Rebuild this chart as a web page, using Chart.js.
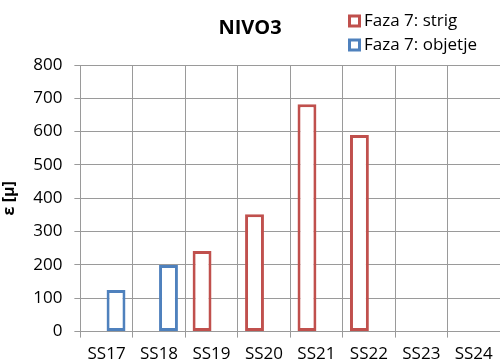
<!DOCTYPE html>
<html>
<head>
<meta charset="utf-8">
<script src="https://cdn.jsdelivr.net/npm/chart.js@4.4.1/dist/chart.umd.min.js"></script>
<style>
html,body{margin:0;padding:0;background:#fff;overflow:hidden;}
#wrap{width:500px;height:361px;position:relative;}
</style>
</head>
<body>
<div id="wrap"><canvas id="c" width="500" height="361"></canvas></div>
<script>
const categories = ['SS17','SS18','SS19','SS20','SS21','SS22','SS23','SS24'];
const strigValues = [null, null, 242, 352, 682, 590, null, null];
const objetjeValues = [125, 200, null, null, null, null, null, null];
const seriesLabels = ['Faza 7: strig', 'Faza 7: objetje'];
const seriesColors = ['#C0504D', '#4F81BD'];
const yTicks = [0,100,200,300,400,500,600,700,800];

const FONT = '"Open Sans", "Liberation Sans", sans-serif';
const GRID = '#9a9a9a';

const customLegend = {
  id: 'customLegend',
  afterDraw(chart) {
    const ctx = chart.ctx;
    ctx.save();
    chart.data.datasets.forEach((ds, i) => {
      const x = 348, cy = 21 + i * 24, s = 13;
      ctx.fillStyle = '#ffffff';
      ctx.fillRect(x, cy - s/2, s, s);
      ctx.strokeStyle = ds.borderColor;
      ctx.lineWidth = 3;
      ctx.strokeRect(x + 1.5, cy - s/2 + 1.5, s - 3, s - 3);
      ctx.fillStyle = '#000';
      ctx.font = '17px ' + FONT;
      ctx.textBaseline = 'middle';
      ctx.textAlign = 'left';
      ctx.fillText(ds.label, x + 16, cy);
    });
    ctx.restore();
  }
};

new Chart(document.getElementById('c'), {
  type: 'bar',
  data: {
    labels: categories,
    datasets: [
      { label: seriesLabels[0], data: strigValues, backgroundColor: '#ffffff', borderColor: seriesColors[0], borderWidth: 3, borderSkipped: false },
      { label: seriesLabels[1], data: objetjeValues, backgroundColor: '#ffffff', borderColor: seriesColors[1], borderWidth: 3, borderSkipped: false }
    ]
  },
  options: {
    responsive: false,
    animation: false,
    layout: { padding: { left: 0, right: 0, top: 0, bottom: -9 } },
    datasets: { bar: { categoryPercentage: 0.72, barPercentage: 1.0 } },
    plugins: {
      legend: { display: false },
      tooltip: { enabled: false },
      title: {
        display: true,
        text: 'NIVO3',
        color: '#000',
        font: { family: FONT, size: 20, weight: 'bold' },
        padding: { top: 16, bottom: 25 }
      }
    },
    scales: {
      x: {
        grid: { color: GRID, lineWidth: 1, tickLength: 6, offset: true, drawTicks: true },
        border: { color: GRID },
        ticks: { color: '#000', font: { family: FONT, size: 17 }, padding: 6, maxRotation: 0, autoSkip: false }
      },
      y: {
        min: 0, max: 800,
        afterBuildTicks(scale) { scale.ticks = yTicks.map(v => ({ value: v })); },
        grid: { color: GRID, lineWidth: 1, tickLength: 6 },
        border: { color: GRID },
        ticks: { color: '#000', font: { family: FONT, size: 17 }, padding: 12 },
        title: { display: true, text: 'ε [μ]', color: '#000', font: { family: FONT, size: 16, weight: 'bold' }, padding: { top: 0, bottom: 2 } }
      }
    }
  },
  plugins: [customLegend]
});
</script>
</body>
</html>
